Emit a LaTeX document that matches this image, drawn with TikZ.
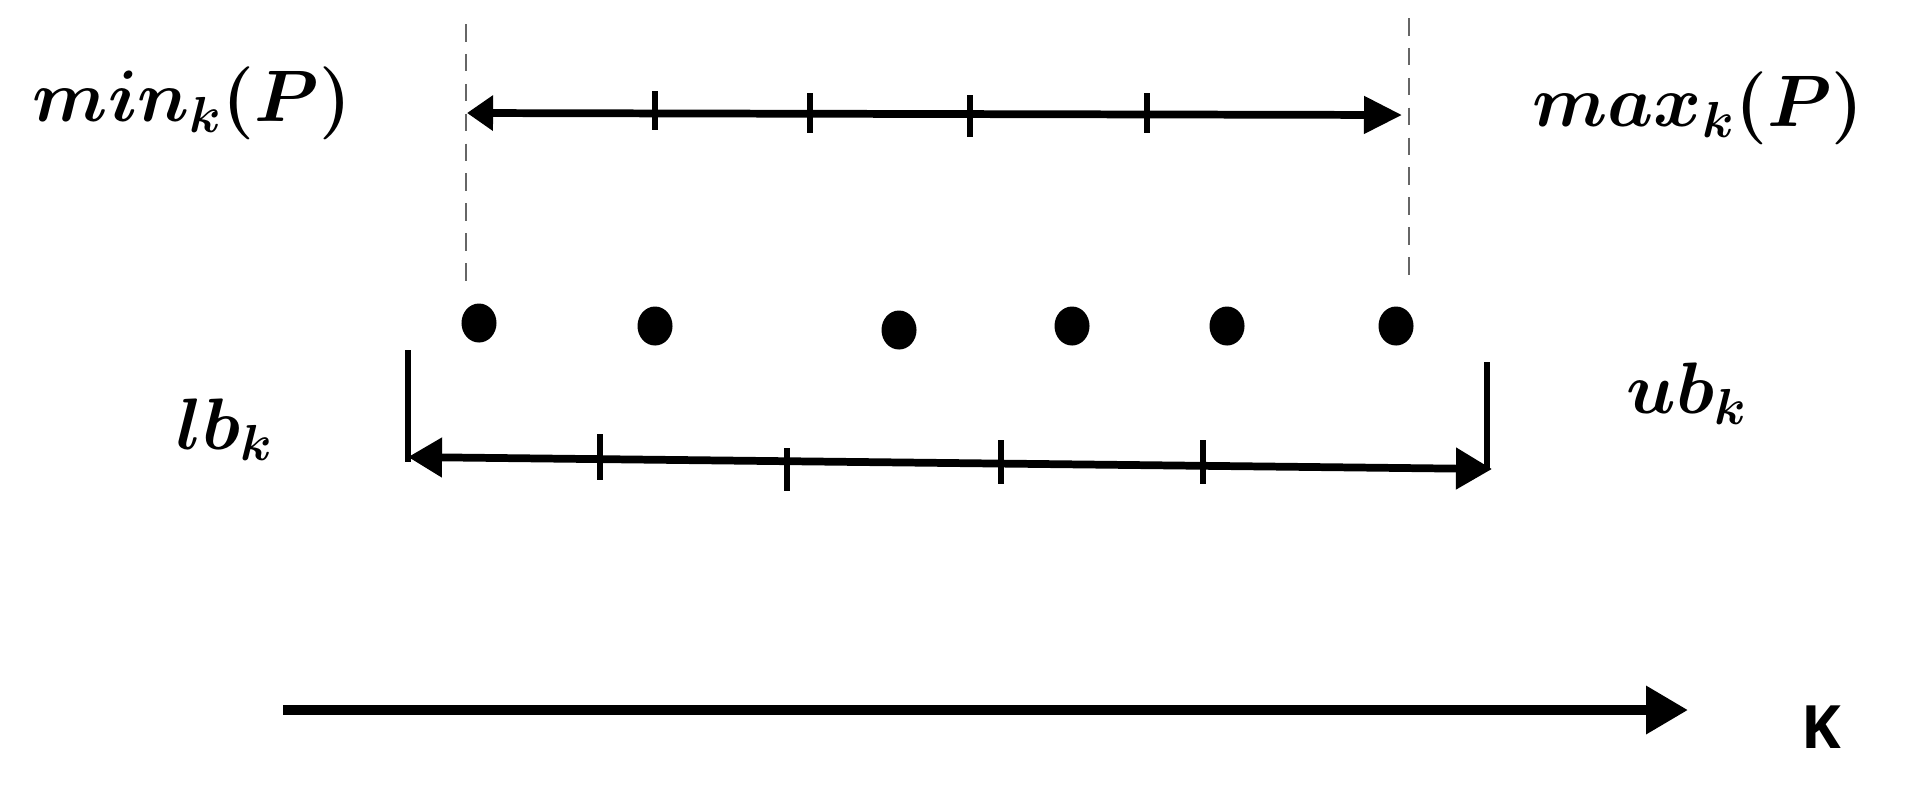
\documentclass[tikz,border=0pt]{standalone}
\usepackage{fontspec}
\usepackage{amsmath}
\usetikzlibrary{arrows.meta,shapes.geometric}
\newfontfamily\kfont{Open Sans}
\begin{document}
\begin{tikzpicture}[x=0.01cm,y=-0.01cm,
  lbl/.style={font=\fontsize{20}{24}\selectfont\boldmath, inner sep=0pt},
  klbl/.style={font=\kfont\bfseries\fontsize{17}{20}\selectfont, inner sep=0pt},
  guide/.style={draw=gray!80!black, line width=0.7pt, dash pattern=on 5pt off 3.5pt},
  dimline/.style={line width=2.2pt, {Triangle[length=0.26cm,width=0.34cm]}-{Triangle[length=0.38cm,width=0.36cm]}},
  bndline/.style={line width=2.2pt, {Triangle[length=0.34cm,width=0.38cm]}-{Triangle[length=0.36cm,width=0.40cm]}},
  axisline/.style={line width=2.8pt, -{Triangle[length=0.42cm,width=0.46cm]}},
  tickmark/.style={line width=1.5pt},
  wall/.style={line width=1.5pt},
  dot/.style={ellipse, fill=black, inner sep=0pt, minimum width=0.35cm, minimum height=0.39cm}
]
\useasboundingbox (0,0) rectangle (1910,793);

% labels
\node[lbl] (minP) at (192,103) {$min_k(P)$};
\node[lbl] (maxP) at (1698,108) {$max_k(P)$};
\node[lbl] (lb) at (225,430) {$lb_k$};
\node[lbl] (ub) at (1687,394) {$ub_k$};
\node[klbl] (K) at (1821,727) {K};

% guide lines
\coordinate (gLt) at (466,24);
\coordinate (gLb) at (466,286);
\coordinate (gRt) at (1409,18);
\coordinate (gRb) at (1409,286);
\draw[guide] (gLt) -- (gLb);
\draw[guide] (gRt) -- (gRb);

% top range arrow
\coordinate (tA) at (467,113);
\coordinate (tB) at (1402,115);
\draw[dimline] (tA) -- (tB);
\draw[tickmark] (655,91) -- (655,130);
\draw[tickmark] (810,93) -- (810,133);
\draw[tickmark] (970,95) -- (970,137);
\draw[tickmark] (1147,93) -- (1147,133);

% dots
\node[dot] (d1) at (479,323) {};
\node[dot] (d2) at (655,326) {};
\node[dot] (d3) at (899,330) {};
\node[dot] (d4) at (1072,326) {};
\node[dot] (d5) at (1227,326) {};
\node[dot] (d6) at (1396,326) {};

% bounds
\coordinate (wLt) at (408,350);
\coordinate (wLb) at (408,462);
\coordinate (wRt) at (1487,362);
\coordinate (wRb) at (1487,470);
\draw[wall] (wLt) -- (wLb);
\draw[wall] (wRt) -- (wRb);
\coordinate (bA) at (408,457);
\coordinate (bB) at (1492,469);
\draw[bndline] (bA) -- (bB);
\draw[tickmark] (600,434) -- (600,480);
\draw[tickmark] (787,448) -- (787,491);
\draw[tickmark] (1001,440) -- (1001,484);
\draw[tickmark] (1203,440) -- (1203,484);

% K axis
\coordinate (kA) at (283,710);
\coordinate (kB) at (1688,710);
\draw[axisline] (kA) -- (kB);
\end{tikzpicture}
\end{document}
